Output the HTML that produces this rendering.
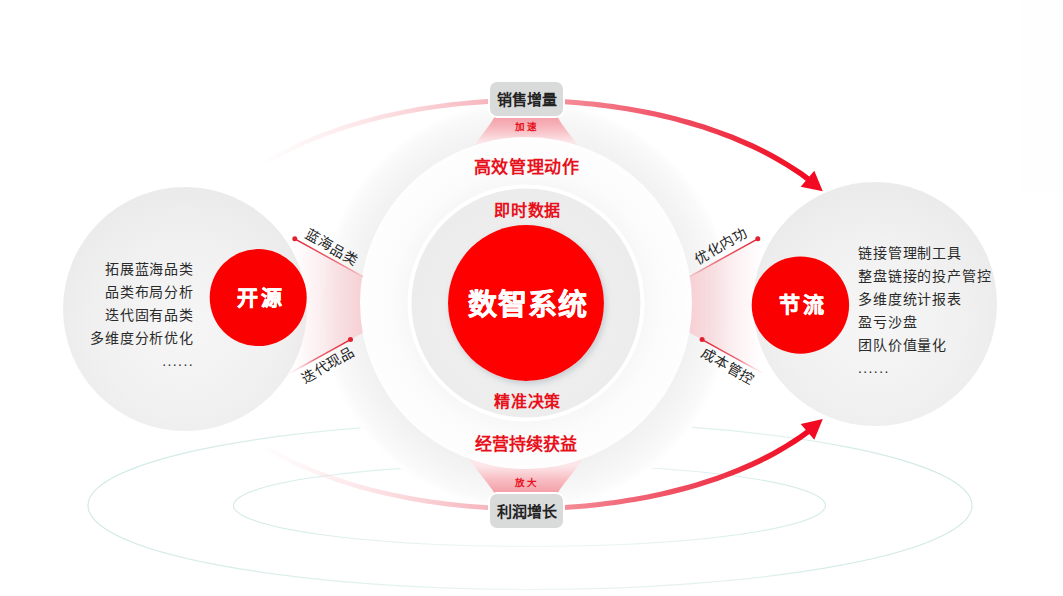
<!DOCTYPE html>
<html lang="zh-CN">
<head>
<meta charset="utf-8">
<style>
html,body{margin:0;padding:0;background:#fff;}
body{width:1063px;height:596px;position:relative;overflow:hidden;font-family:"Liberation Sans",sans-serif;}
svg{position:absolute;left:0;top:0;}
.t{position:absolute;white-space:nowrap;line-height:1;}
.list{position:absolute;font-size:14px;color:#2a2a2a;font-weight:500;line-height:23px;letter-spacing:0.85px;}
.dots{letter-spacing:1.4px;font-size:14px;}
.red{color:#e8101a;font-weight:900;}
.wt{color:#fff;font-weight:900;-webkit-text-stroke:0.5px #fff;}
.box{position:absolute;width:73px;height:34px;border-radius:7px;background:#d9dbdb;color:#222;font-weight:bold;font-size:15px;text-align:center;line-height:35.5px;box-shadow:0 0 0 2px #fff;}
.rot{position:absolute;font-size:14px;color:#222;font-weight:500;white-space:nowrap;line-height:1;transform-origin:center center;letter-spacing:0.67px;padding-left:0.67px;}
</style>
</head>
<body>
<svg width="1063" height="596" viewBox="0 0 1063 596">
<defs>
  <radialGradient id="gOuter" gradientUnits="userSpaceOnUse" cx="526" cy="305" r="206">
    <stop offset="0.80" stop-color="#f1f1f1"/>
    <stop offset="0.88" stop-color="#f5f5f5"/>
    <stop offset="0.96" stop-color="#fafafa"/>
    <stop offset="1" stop-color="#ffffff"/>
  </radialGradient>
  <radialGradient id="gWhite" gradientUnits="userSpaceOnUse" cx="526" cy="303" r="166">
    <stop offset="0.71" stop-color="#f7f7f7"/>
    <stop offset="0.8" stop-color="#fbfbfb"/>
    <stop offset="1" stop-color="#fefefe"/>
  </radialGradient>
  <radialGradient id="gSide" cx="0.5" cy="0.58" r="0.56">
    <stop offset="0" stop-color="#f6f6f6"/>
    <stop offset="0.6" stop-color="#f1f1f1"/>
    <stop offset="1" stop-color="#ebebeb"/>
  </radialGradient>
  <radialGradient id="gInner" cx="0.5" cy="0.55" r="0.5">
    <stop offset="0" stop-color="#f1f1f1"/>
    <stop offset="1" stop-color="#ececec"/>
  </radialGradient>
  <linearGradient id="gArcTop" gradientUnits="userSpaceOnUse" x1="258" y1="0" x2="808" y2="0">
    <stop offset="0" stop-color="#fbdde0" stop-opacity="0"/>
    <stop offset="0.1" stop-color="#fbdde0" stop-opacity="0.35"/>
    <stop offset="0.22" stop-color="#fad6da" stop-opacity="0.75"/>
    <stop offset="0.32" stop-color="#f9ccd1"/>
    <stop offset="0.42" stop-color="#f7b5bd"/>
    <stop offset="0.56" stop-color="#f48b97"/>
    <stop offset="0.68" stop-color="#f26676"/>
    <stop offset="0.8" stop-color="#ef4257"/>
    <stop offset="0.92" stop-color="#f01e32"/>
    <stop offset="1" stop-color="#f20a22"/>
  </linearGradient>
  <linearGradient id="gFunL" gradientUnits="userSpaceOnUse" x1="292" y1="0" x2="363" y2="0">
    <stop offset="0" stop-color="#f8d6da" stop-opacity="0"/>
    <stop offset="0.45" stop-color="#f8d6da" stop-opacity="0.45"/>
    <stop offset="1" stop-color="#f7d0d4"/>
  </linearGradient>
  <linearGradient id="gFunR" gradientUnits="userSpaceOnUse" x1="761" y1="0" x2="690" y2="0">
    <stop offset="0" stop-color="#f8d6da" stop-opacity="0"/>
    <stop offset="0.45" stop-color="#f8d6da" stop-opacity="0.45"/>
    <stop offset="1" stop-color="#f7d0d4"/>
  </linearGradient>
  <linearGradient id="gFunT" gradientUnits="userSpaceOnUse" x1="0" y1="116" x2="0" y2="142">
    <stop offset="0" stop-color="#f49ca5"/>
    <stop offset="0.5" stop-color="#f7bcc2"/>
    <stop offset="1" stop-color="#fce6e8"/>
  </linearGradient>
  <linearGradient id="gFunB" gradientUnits="userSpaceOnUse" x1="0" y1="494" x2="0" y2="466">
    <stop offset="0" stop-color="#f49ca5"/>
    <stop offset="0.5" stop-color="#f7bcc2"/>
    <stop offset="1" stop-color="#fce6e8"/>
  </linearGradient>
  <filter id="sh" x="-20%" y="-20%" width="140%" height="140%">
    <feDropShadow dx="2" dy="3" stdDeviation="3" flood-color="#8090a0" flood-opacity="0.35"/>
  </filter>
  <linearGradient id="gL1" gradientUnits="userSpaceOnUse" x1="294.8" y1="238.8" x2="363" y2="276.6">
    <stop offset="0" stop-color="#e3202f"/><stop offset="0.6" stop-color="#ec6c78"/><stop offset="1" stop-color="#f6c4c9"/>
  </linearGradient>
  <linearGradient id="gL2" gradientUnits="userSpaceOnUse" x1="350.5" y1="339.6" x2="290" y2="373.1">
    <stop offset="0" stop-color="#e3202f"/><stop offset="0.6" stop-color="#ec6c78"/><stop offset="1" stop-color="#fae0e3" stop-opacity="0.3"/>
  </linearGradient>
  <linearGradient id="gL3" gradientUnits="userSpaceOnUse" x1="757.8" y1="238.8" x2="689.6" y2="276.6">
    <stop offset="0" stop-color="#e3202f"/><stop offset="0.6" stop-color="#ec6c78"/><stop offset="1" stop-color="#f6c4c9"/>
  </linearGradient>
  <linearGradient id="gL4" gradientUnits="userSpaceOnUse" x1="702.1" y1="339.6" x2="762.6" y2="373.1">
    <stop offset="0" stop-color="#e3202f"/><stop offset="0.6" stop-color="#ec6c78"/><stop offset="1" stop-color="#fae0e3" stop-opacity="0.3"/>
  </linearGradient>
  <linearGradient id="gTeal" gradientUnits="userSpaceOnUse" x1="88" y1="0" x2="972" y2="0">
    <stop offset="0" stop-color="#cde8e4"/><stop offset="0.25" stop-color="#ddefed"/><stop offset="0.5" stop-color="#ecf6f5"/><stop offset="0.75" stop-color="#ddefed"/><stop offset="1" stop-color="#cde8e4"/>
  </linearGradient>
  <linearGradient id="gTeal2" gradientUnits="userSpaceOnUse" x1="234" y1="0" x2="826" y2="0">
    <stop offset="0" stop-color="#d2eae7"/><stop offset="0.25" stop-color="#e0f1ef"/><stop offset="0.5" stop-color="#edf7f6"/><stop offset="0.75" stop-color="#e0f1ef"/><stop offset="1" stop-color="#d2eae7"/>
  </linearGradient>
</defs>

<rect x="1021" y="0" width="42" height="191" fill="#fefefe"/>
<!-- teal ellipses -->
<ellipse cx="530" cy="505.5" rx="442" ry="84" fill="none" stroke="url(#gTeal)" stroke-width="1.1"/>
<ellipse cx="529.5" cy="505.5" rx="296" ry="41" fill="none" stroke="url(#gTeal2)" stroke-width="1.1"/>

<!-- outer ring -->
<circle cx="526" cy="305" r="206" fill="url(#gOuter)"/>

<!-- arcs -->
<path d="M259.2 169.0 L266.1 164.7 L273.0 160.7 L279.9 156.9 L286.8 153.3 L293.8 149.9 L300.7 146.7 L307.6 143.6 L314.5 140.7 L321.5 138.0 L328.4 135.3 L335.3 132.9 L342.2 130.5 L349.2 128.3 L356.1 126.2 L363.0 124.2 L370.0 122.3 L376.9 120.5 L383.8 118.8 L390.8 117.2 L397.7 115.7 L404.7 114.3 L411.6 113.0 L418.5 111.7 L425.5 110.6 L432.4 109.5 L439.3 108.5 L446.3 107.7 L453.2 106.8 L460.1 106.1 L467.1 105.4 L474.0 104.9 L480.9 104.4 L487.9 103.9 L494.8 103.6 L501.8 103.3 L508.7 103.1 L515.6 103.0 L522.6 102.9 L529.5 103.0 L536.4 103.1 L543.4 103.2 L550.3 103.5 L557.2 103.8 L564.2 104.2 L571.1 104.7 L578.0 105.2 L585.0 105.9 L591.9 106.6 L598.8 107.4 L605.8 108.2 L612.7 109.2 L619.6 110.2 L626.6 111.3 L633.5 112.5 L640.4 113.8 L647.4 115.2 L654.3 116.6 L661.2 118.2 L668.1 119.8 L675.1 121.6 L682.0 123.4 L688.9 125.4 L695.8 127.4 L702.8 129.6 L709.7 131.9 L716.6 134.3 L723.5 136.9 L730.4 139.6 L737.3 142.4 L744.3 145.4 L751.2 148.5 L758.1 151.8 L765.0 155.3 L771.9 159.0 L778.8 162.9 L785.7 167.0 L792.6 171.4 L799.5 176.1 L806.3 181.2 L809.7 176.8 L802.6 171.6 L795.6 166.9 L788.5 162.4 L781.5 158.2 L774.5 154.2 L767.5 150.5 L760.5 147.0 L753.4 143.6 L746.4 140.5 L739.4 137.5 L732.4 134.6 L725.4 131.9 L718.4 129.4 L711.4 126.9 L704.4 124.6 L697.4 122.4 L690.4 120.3 L683.4 118.4 L676.4 116.5 L669.4 114.8 L662.4 113.1 L655.4 111.6 L648.4 110.1 L641.4 108.7 L634.4 107.5 L627.4 106.3 L620.4 105.2 L613.4 104.1 L606.4 103.2 L599.4 102.3 L592.4 101.6 L585.5 100.9 L578.5 100.3 L571.5 99.7 L564.5 99.2 L557.5 98.9 L550.5 98.6 L543.5 98.3 L536.5 98.2 L529.5 98.1 L522.5 98.1 L515.6 98.1 L508.6 98.3 L501.6 98.5 L494.6 98.8 L487.6 99.1 L480.6 99.6 L473.6 100.1 L466.6 100.7 L459.7 101.4 L452.7 102.1 L445.7 103.0 L438.7 103.9 L431.7 104.9 L424.7 106.0 L417.7 107.1 L410.7 108.4 L403.8 109.7 L396.8 111.2 L389.8 112.7 L382.8 114.3 L375.8 116.1 L368.8 117.9 L361.8 119.8 L354.8 121.8 L347.8 124.0 L340.8 126.3 L333.8 128.7 L326.9 131.2 L319.9 133.8 L312.9 136.6 L305.9 139.6 L298.9 142.7 L291.9 145.9 L284.9 149.4 L277.9 153.0 L270.9 156.9 L263.9 161.0 L256.8 165.4 Z" fill="url(#gArcTop)"/>
<path d="M256.8 444.5 L263.8 448.9 L270.9 453.0 L277.9 456.9 L284.9 460.5 L291.9 463.9 L298.9 467.2 L305.9 470.2 L312.9 473.1 L319.9 475.9 L326.9 478.5 L333.9 481.0 L340.8 483.3 L347.8 485.6 L354.8 487.7 L361.8 489.7 L368.8 491.6 L375.8 493.4 L382.8 495.1 L389.8 496.6 L396.8 498.1 L403.8 499.6 L410.8 500.9 L417.7 502.1 L424.7 503.2 L431.7 504.3 L438.7 505.3 L445.7 506.2 L452.7 507.0 L459.7 507.7 L466.7 508.4 L473.6 509.0 L480.6 509.5 L487.6 510.0 L494.6 510.3 L501.6 510.6 L508.6 510.8 L515.6 511.0 L522.5 511.0 L529.5 511.0 L536.5 511.0 L543.5 510.8 L550.5 510.6 L557.5 510.3 L564.5 509.9 L571.5 509.5 L578.5 509.0 L585.4 508.4 L592.4 507.7 L599.4 506.9 L606.4 506.1 L613.4 505.2 L620.4 504.2 L627.4 503.1 L634.4 502.0 L641.4 500.7 L648.4 499.4 L655.4 498.0 L662.4 496.5 L669.4 494.9 L676.4 493.2 L683.4 491.4 L690.4 489.4 L697.4 487.4 L704.4 485.3 L711.4 483.0 L718.4 480.7 L725.4 478.1 L732.4 475.5 L739.4 472.7 L746.4 469.8 L753.4 466.7 L760.4 463.4 L767.5 459.9 L774.5 456.2 L781.5 452.3 L788.5 448.1 L795.6 443.7 L802.6 438.9 L809.7 433.8 L806.3 429.4 L799.5 434.4 L792.6 439.1 L785.7 443.5 L778.8 447.6 L771.9 451.4 L765.0 455.1 L758.1 458.5 L751.2 461.8 L744.3 464.8 L737.4 467.8 L730.5 470.5 L723.5 473.2 L716.6 475.7 L709.7 478.0 L702.8 480.3 L695.9 482.4 L688.9 484.4 L682.0 486.3 L675.1 488.1 L668.2 489.8 L661.2 491.4 L654.3 492.9 L647.4 494.4 L640.4 495.7 L633.5 496.9 L626.6 498.1 L619.7 499.2 L612.7 500.2 L605.8 501.1 L598.9 501.9 L591.9 502.7 L585.0 503.4 L578.1 504.0 L571.1 504.5 L564.2 505.0 L557.2 505.3 L550.3 505.6 L543.4 505.9 L536.4 506.0 L529.5 506.1 L522.6 506.2 L515.6 506.1 L508.7 506.0 L501.8 505.8 L494.8 505.5 L487.9 505.2 L480.9 504.7 L474.0 504.2 L467.1 503.7 L460.1 503.0 L453.2 502.3 L446.3 501.5 L439.3 500.6 L432.4 499.7 L425.4 498.6 L418.5 497.5 L411.6 496.3 L404.6 495.0 L397.7 493.6 L390.8 492.2 L383.8 490.6 L376.9 488.9 L370.0 487.2 L363.0 485.3 L356.1 483.4 L349.2 481.3 L342.2 479.1 L335.3 476.8 L328.4 474.3 L321.5 471.7 L314.5 469.0 L307.6 466.2 L300.7 463.2 L293.7 460.0 L286.8 456.6 L279.9 453.0 L273.0 449.2 L266.1 445.2 L259.2 440.9 Z" fill="url(#gArcTop)"/>
<polygon points="822.8,191.3 800.7,186.8 814.3,170.7" fill="#f20a22"/>
<polygon points="822.8,419.1 800.7,424.1 814.3,439.7" fill="#f20a22"/>

<!-- side gray circles -->
<circle cx="185" cy="309" r="122" fill="url(#gSide)"/>
<circle cx="875" cy="304" r="122" fill="url(#gSide)"/>

<!-- funnels -->
<polygon points="290,236.1 363,276.6 363,332.7 290,373.1" fill="url(#gFunL)"/>
<polygon points="762.6,236.1 689.6,276.6 689.6,332.7 762.6,373.1" fill="url(#gFunR)"/>
<path d="M 495 116 L 557 116 C 563 127 571 135 582 152 L 470 152 C 481 135 489 127 495 116 Z" fill="url(#gFunT)"/>
<path d="M 495 494 L 557 494 C 563 484 571 476 584 458 L 468 458 C 481 476 489 484 495 494 Z" fill="url(#gFunB)"/>

<!-- white disc -->
<circle cx="526" cy="303" r="166" fill="url(#gWhite)"/>
<!-- inner gray disc -->
<circle cx="526" cy="303" r="116.5" fill="url(#gInner)" stroke="#ffffff" stroke-width="4"/>
<!-- center red -->
<circle cx="526" cy="303" r="78" fill="#fe0000" filter="url(#sh)"/>

<!-- small red circles -->
<circle cx="258.2" cy="297.6" r="48.5" fill="#fb0000"/>
<circle cx="800.4" cy="305.1" r="48.7" fill="#fb0000"/>

<!-- label lines -->
<line x1="294.8" y1="238.8" x2="363" y2="276.6" stroke="url(#gL1)" stroke-width="1.5"/>
<line x1="350.5" y1="339.6" x2="290" y2="373.1" stroke="url(#gL2)" stroke-width="1.5"/>
<line x1="757.8" y1="238.8" x2="689.6" y2="276.6" stroke="url(#gL3)" stroke-width="1.5"/>
<line x1="702.1" y1="339.6" x2="762.6" y2="373.1" stroke="url(#gL4)" stroke-width="1.5"/>
<g fill="#e3202f">
<circle cx="294.8" cy="238.8" r="2.5"/>
<circle cx="350.5" cy="339.6" r="2.5"/>
<circle cx="757.8" cy="238.8" r="2.5"/>
<circle cx="702.1" cy="339.6" r="2.5"/>
</g>
</svg>

<!-- boxes -->
<div class="box" style="left:490px;top:82px;">销售增量</div>
<div class="box" style="left:490px;top:493.5px;">利润增长</div>
<div class="t" style="left:502.5px;top:122px;width:40px;text-align:center;font-size:9.5px;color:#e8101a;letter-spacing:2px;padding-left:4px;font-weight:bold;">加速</div>
<div class="t" style="left:502.5px;top:478px;width:40px;text-align:center;font-size:9.5px;color:#e8101a;letter-spacing:2px;padding-left:4px;font-weight:bold;">放大</div>

<!-- center texts -->
<div class="t red" style="left:426px;top:158.5px;width:200px;text-align:center;font-size:17px;letter-spacing:0.7px;padding-left:0.7px;">高效管理动作</div>
<div class="t red" style="left:427px;top:203px;width:200px;text-align:center;font-size:16px;letter-spacing:0.6px;padding-left:0.6px;">即时数据</div>
<div class="t wt" style="left:427px;top:291px;width:200px;text-align:center;font-size:29px;letter-spacing:1px;padding-left:1px;">数智系统</div>
<div class="t red" style="left:427px;top:394px;width:200px;text-align:center;font-size:16px;letter-spacing:0.6px;padding-left:0.6px;">精准决策</div>
<div class="t red" style="left:426px;top:436px;width:200px;text-align:center;font-size:17px;">经营持续获益</div>

<div class="t wt" style="left:208px;top:287px;width:100px;text-align:center;font-size:21px;letter-spacing:3px;padding-left:3px;">开源</div>
<div class="t wt" style="left:750px;top:294px;width:100px;text-align:center;font-size:21px;letter-spacing:3px;padding-left:3px;">节流</div>

<!-- left list -->
<div class="list" style="right:869px;top:258px;text-align:right;">拓展蓝海品类<br>品类布局分析<br>迭代固有品类<br>多维度分析优化<br><span class="dots">......</span></div>
<!-- right list -->
<div class="list" style="left:858px;top:242px;">链接管理制工具<br>整盘链接的投产管控<br>多维度统计报表<br>盈亏沙盘<br>团队价值量化<br><span class="dots">......</span></div>

<!-- rotated labels -->
<div class="rot" style="left:301.7px;top:240.3px;transform:rotate(29.5deg);">蓝海品类</div>
<div class="rot" style="left:297.9px;top:357.9px;transform:rotate(-29.5deg);">迭代现品</div>
<div class="rot" style="left:691.3px;top:239.2px;transform:rotate(-29.5deg);">优化内功</div>
<div class="rot" style="left:697.5px;top:358.5px;transform:rotate(29deg);">成本管控</div>
</body>
</html>
